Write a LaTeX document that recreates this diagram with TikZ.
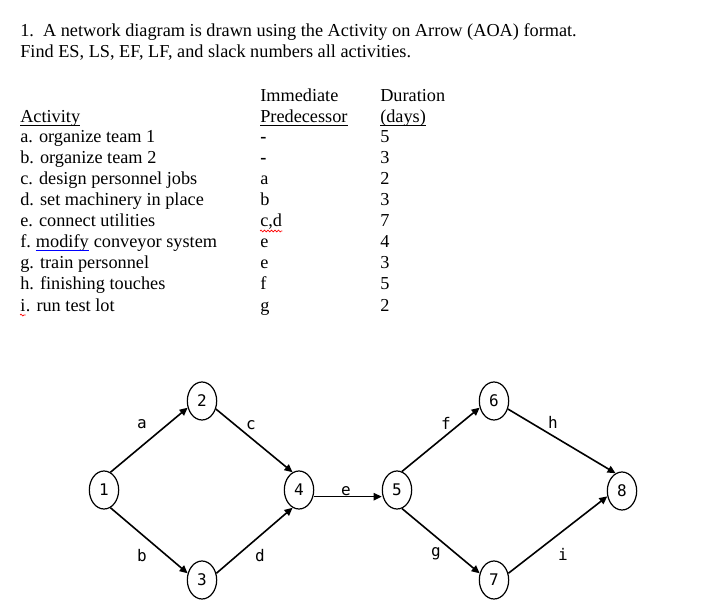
\documentclass[tikz,border=0pt]{standalone}
\usepackage{fontspec}
\setmainfont{Liberation Serif}
\newfontfamily\plotfont{DejaVu Sans Mono}
\usetikzlibrary{shapes.geometric,arrows.meta,decorations.pathmorphing}
\begin{document}
\begin{tikzpicture}[x=0.75pt,y=-0.75pt,
    txt/.style={inner sep=0,anchor=base west,font=\fontsize{13.7}{16}\selectfont},
    uline/.style={line width=0.7pt},
    wavy/.style={red,line width=0.5pt,decorate,decoration={snake,amplitude=0.7pt,segment length=2.6pt}},
    event/.style={ellipse,draw,line width=0.9pt,minimum width=22pt,minimum height=28.5pt,inner sep=0,font=\plotfont\fontsize{12}{14}\selectfont},
    lab/.style={inner sep=0,anchor=base,font=\plotfont\fontsize{12}{14}\selectfont},
    act/.style={line width=1.2pt,-{Triangle[length=6pt,width=5.5pt]}}]
\useasboundingbox (0,0) rectangle (705,605);
% question
\node[txt] (q1) at (20,37) {1.\ \ A network diagram is drawn using the Activity on Arrow (AOA) format.};
\node[txt] (q2) at (20,58) {Find ES, LS, EF, LF, and slack numbers all activities.};
% table heads
\node[txt] (hact) at (20,123) {Activity};
\node[txt] (himm) at (260,102) {Immediate};
\node[txt] (hpre) at (260,123) {Predecessor};
\node[txt] (hdur) at (380,102) {Duration};
\node[txt] (hday) at (380,123) {(days)};
\draw[uline] ([yshift=-1.6pt]hact.base west) -- ([yshift=-1.6pt]hact.base east);
\draw[uline] ([yshift=-1.6pt]hpre.base west) -- ([yshift=-1.6pt]hpre.base east);
\draw[uline] ([yshift=-1.6pt]hday.base west) -- ([yshift=-1.6pt]hday.base east);
% rows
\node[txt] (ra) at (20,143) {a. organize team 1};
\node[txt] (rb) at (20,164) {b. organize team 2};
\node[txt] (rc) at (20,185) {c. design personnel jobs};
\node[txt] (rd) at (20,206) {d. set machinery in place};
\node[txt] (re) at (20,227) {e. connect utilities};
\node[txt] (rf) at (20,248) {f.};
\node[txt] (rfm) at ([xshift=3.4pt]rf.base east) {modify};
\node[txt] (rfc) at ([xshift=3.4pt]rfm.base east) {conveyor system};
\node[txt] (rg) at (20,269) {g. train personnel};
\node[txt] (rh) at (20,290) {h. finishing touches};
\node[txt] (ri) at (20,311) {i};
\node[txt] (rit) at (ri.base east) {. run test lot};
\draw[blue,line width=0.9pt] ([yshift=-2pt]rfm.base west) -- ([yshift=-2pt]rfm.base east);
\draw[wavy] ([yshift=-3pt]ri.base west) -- ([yshift=-3pt]ri.base east);
\node[txt] (pa) at (260,143) {\textbf{-}};
\node[txt] (pb) at (260,164) {\textbf{-}};
\node[txt] (pc) at (260,185) {a};
\node[txt] (pd) at (260,206) {b};
\node[txt] (pe) at (260,227) {c,d};
\node[txt] (pf) at (260,248) {e};
\node[txt] (pg) at (260,269) {e};
\node[txt] (ph) at (260,290) {f};
\node[txt] (pi) at (260,311) {g};
\draw[wavy] ([yshift=-3pt]pe.base west) -- ([yshift=-3pt]pe.base east);
\node[txt] (da) at (380,143) {5};
\node[txt] (db) at (380,164) {3};
\node[txt] (dc) at (380,185) {2};
\node[txt] (dd) at (380,206) {3};
\node[txt] (de) at (380,227) {7};
\node[txt] (df) at (380,248) {4};
\node[txt] (dg) at (380,269) {3};
\node[txt] (dh) at (380,290) {5};
\node[txt] (di) at (380,311) {2};
% network
\node[event] (n1) at (104,490) {1};
\node[event] (n2) at (202,401) {2};
\node[event] (n3) at (202,580) {3};
\node[event] (n4) at (299,490) {4};
\node[event] (n5) at (397,490) {5};
\node[event] (n6) at (494,401) {6};
\node[event] (n7) at (494,580) {7};
\node[event] (n8) at (622,491) {8};
\draw[act] (n1.70) -- (n2.205);
\draw[act] (n1.-70) -- (n3.155);
\draw[act] (n2.-30) -- (n4.110);
\draw[act] (n3.25) -- (n4.-110);
\draw[act] ([yshift=-5pt]n4.east) -- ([yshift=-5pt]n5.west);
\draw[act] (n5.75) -- (n6.205);
\draw[act] (n5.-75) -- (n7.155);
\draw[act] (n6.-30) -- (n8.110);
\draw[act] (n7.25) -- (n8.200);
\node[lab] (la) at (142,428) {a};
\node[lab] (lb) at (142,561) {b};
\node[lab] (lc) at (251,429) {c};
\node[lab] (ld) at (260,561) {d};
\node[lab] (le) at (346,495) {e};
\node[lab] (lf) at (446,429) {f};
\node[lab] (lg) at (436,556) {g};
\node[lab] (lh) at (553,428) {h};
\node[lab] (li) at (563,560) {i};
\end{tikzpicture}
\end{document}
